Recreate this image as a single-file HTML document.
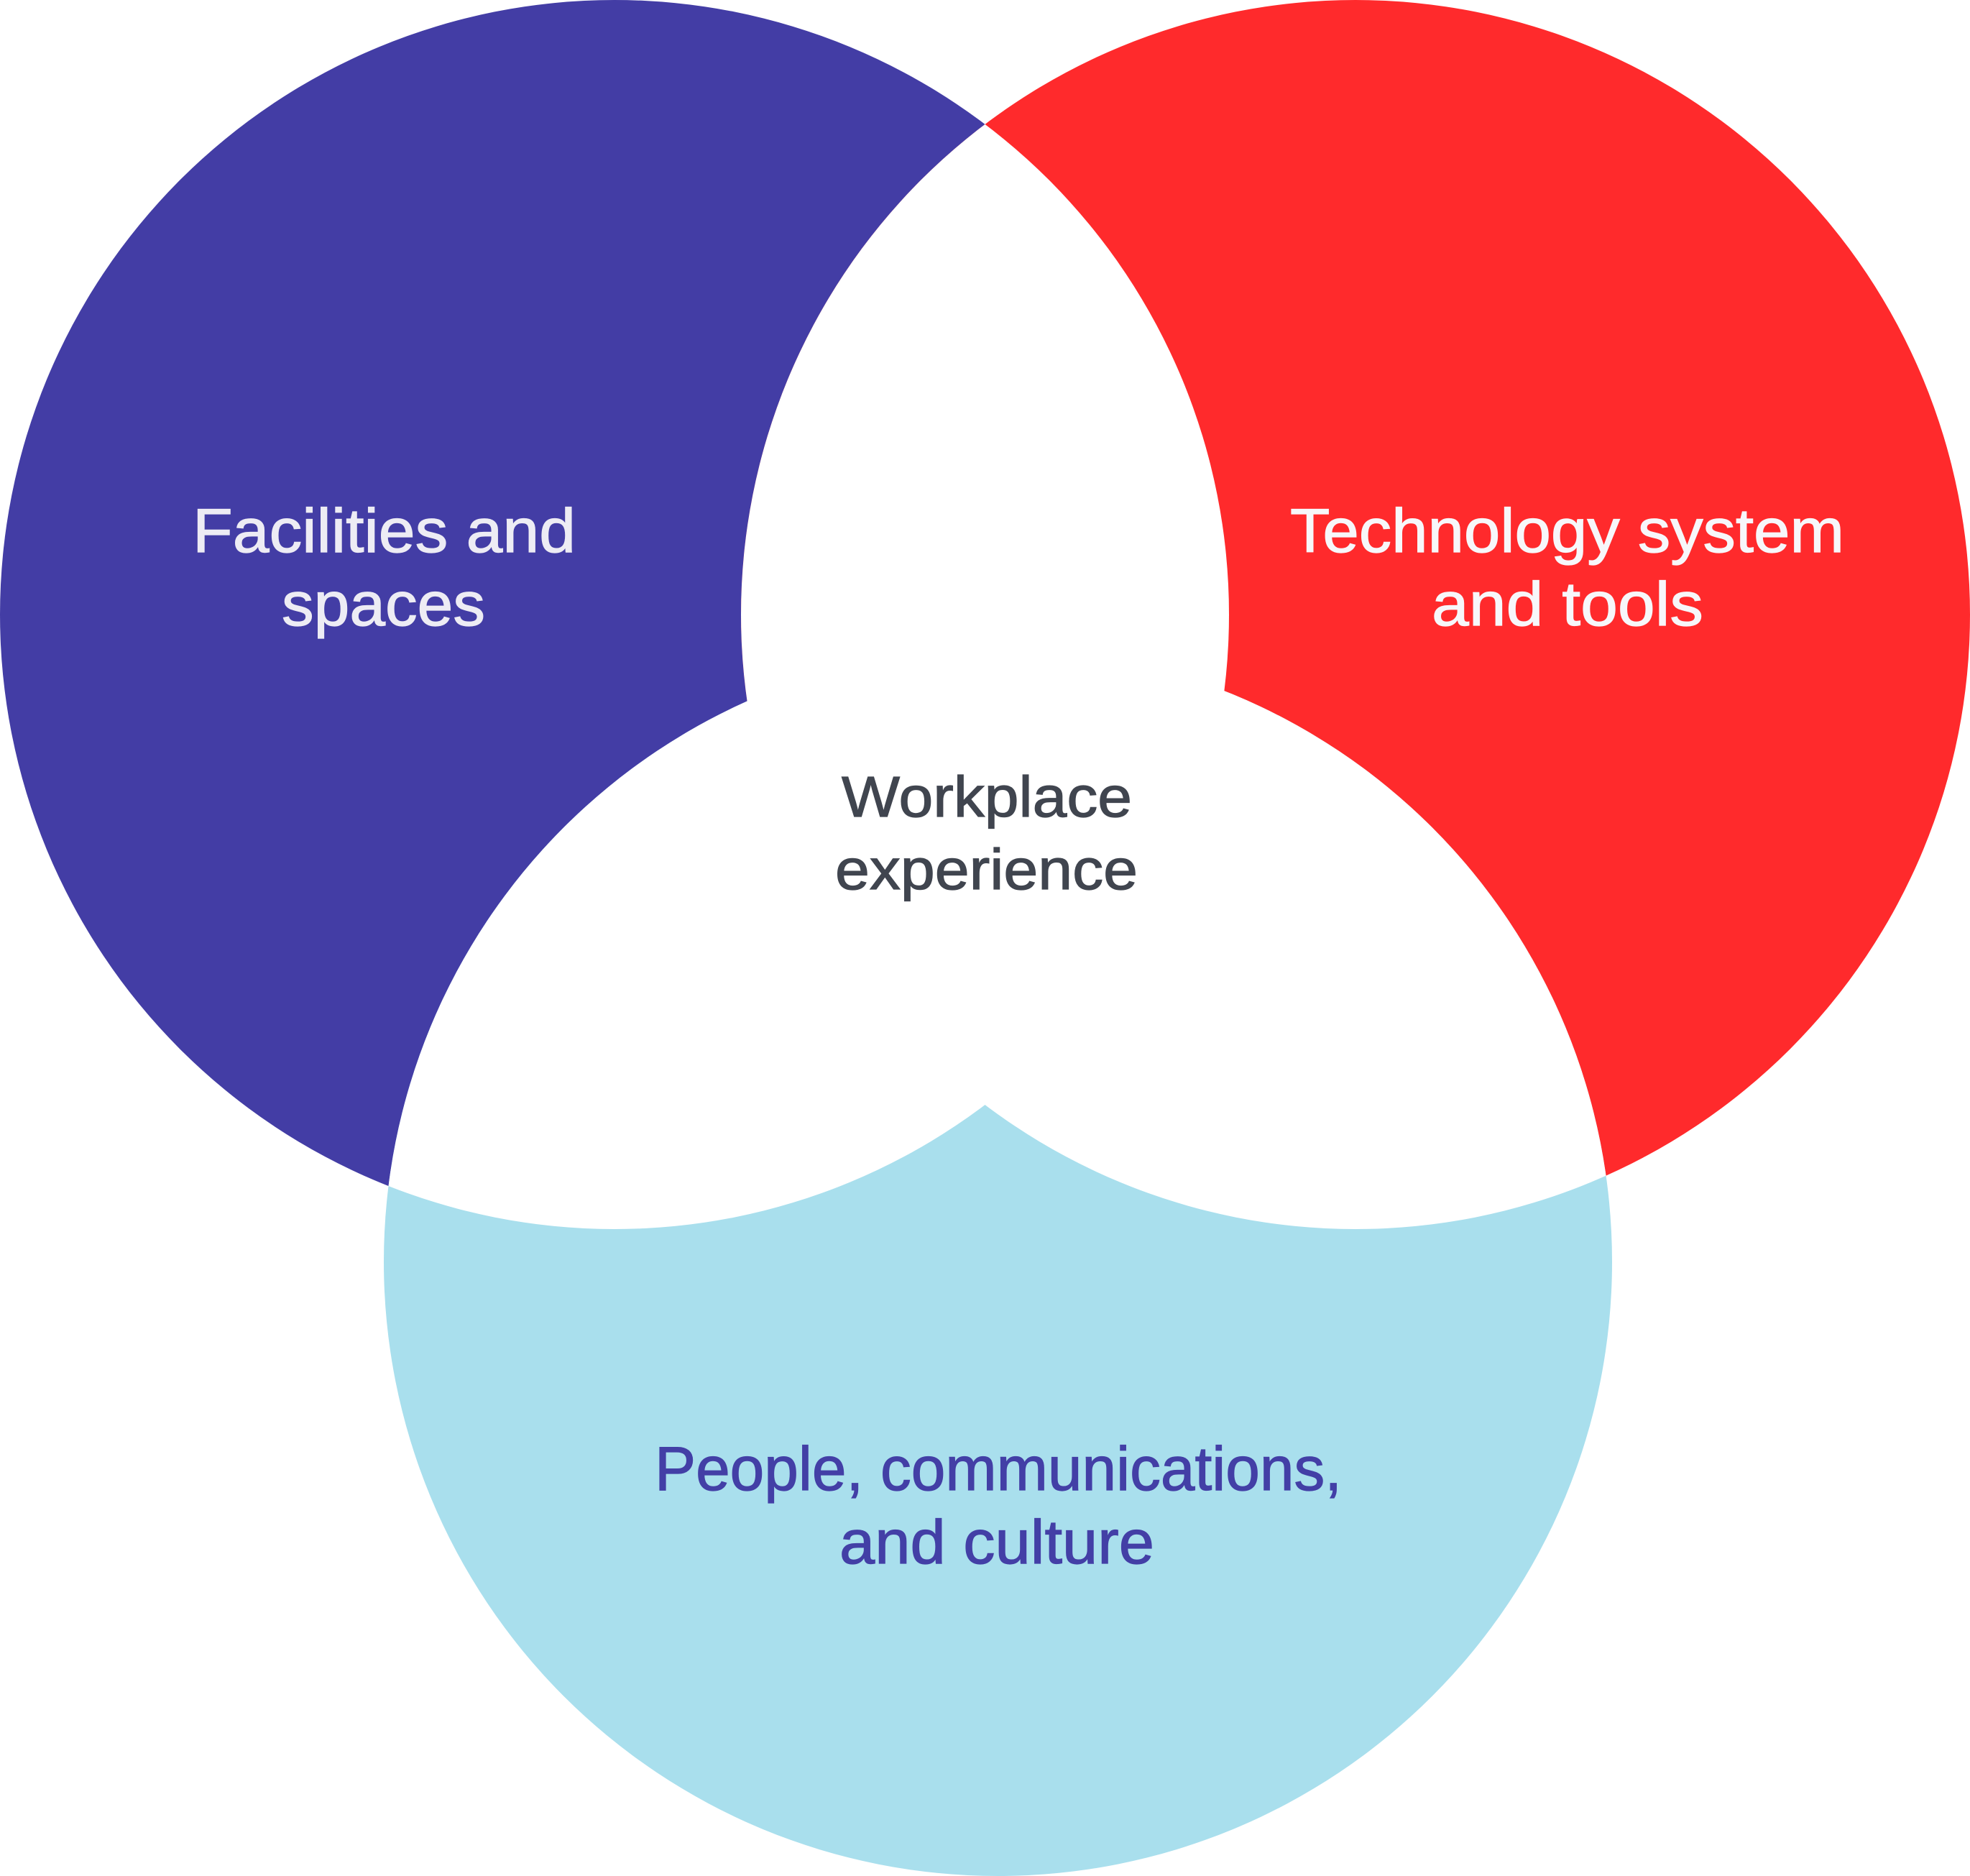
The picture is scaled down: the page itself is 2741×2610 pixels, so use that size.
<!DOCTYPE html>
<html lang="en">
<head>
<meta charset="utf-8">
<title>Workplace experience</title>
<style>
html,body{margin:0;padding:0;background:#fff;width:2741px;height:2610px;overflow:hidden}
svg{display:block}
text{font-family:"Liberation Sans",sans-serif;stroke-width:1.2px}
</style>
</head>
<body>
<svg xmlns="http://www.w3.org/2000/svg" width="2741" height="2610" viewBox="0 0 2741 2610">
  <defs>
    <clipPath id="cl"><circle cx="855" cy="855" r="855"/></clipPath>
    <clipPath id="cr"><circle cx="1886" cy="855" r="855"/></clipPath>
    <clipPath id="cb"><circle cx="1388.5" cy="1755.5" r="854.5"/></clipPath>
  </defs>
  <rect width="2741" height="2610" fill="#ffffff"/>
  <circle cx="855" cy="855" r="855" fill="#433DA5"/>
  <circle cx="1886" cy="855" r="855" fill="#FF2A2C"/>
  <circle cx="1388.5" cy="1755.5" r="854.5" fill="#A9DFED"/>
  <g fill="#ffffff">
    <circle cx="1886" cy="855" r="855" clip-path="url(#cl)"/>
    <circle cx="1388.5" cy="1755.5" r="854.5" clip-path="url(#cl)"/>
    <circle cx="1388.5" cy="1755.5" r="854.5" clip-path="url(#cr)"/>
  </g>
  <g fill="#EDECF4" stroke="#EDECF4" font-size="86">
    <text x="268" y="768" textLength="533" lengthAdjust="spacingAndGlyphs">Facilities and</text>
    <text x="392" y="870" textLength="283" lengthAdjust="spacingAndGlyphs">spaces</text>
  </g>
  <g fill="#F7F7FA" stroke="#F7F7FA" font-size="86">
    <text x="1795" y="768" textLength="771" lengthAdjust="spacingAndGlyphs">Technology system</text>
    <text x="1992" y="870" textLength="378" lengthAdjust="spacingAndGlyphs">and tools</text>
  </g>
  <g fill="#40454F" stroke="#40454F" font-size="80">
    <text x="1171" y="1136" textLength="404" lengthAdjust="spacingAndGlyphs">Workplace</text>
    <text x="1162" y="1237" textLength="421" lengthAdjust="spacingAndGlyphs">experience</text>
  </g>
  <g fill="#433FA6" stroke="#433FA6" font-size="86">
    <text x="911" y="2073" textLength="956" lengthAdjust="spacingAndGlyphs">People, communications,</text>
    <text x="1168" y="2175" textLength="438" lengthAdjust="spacingAndGlyphs">and culture</text>
  </g>
</svg>
</body>
</html>
